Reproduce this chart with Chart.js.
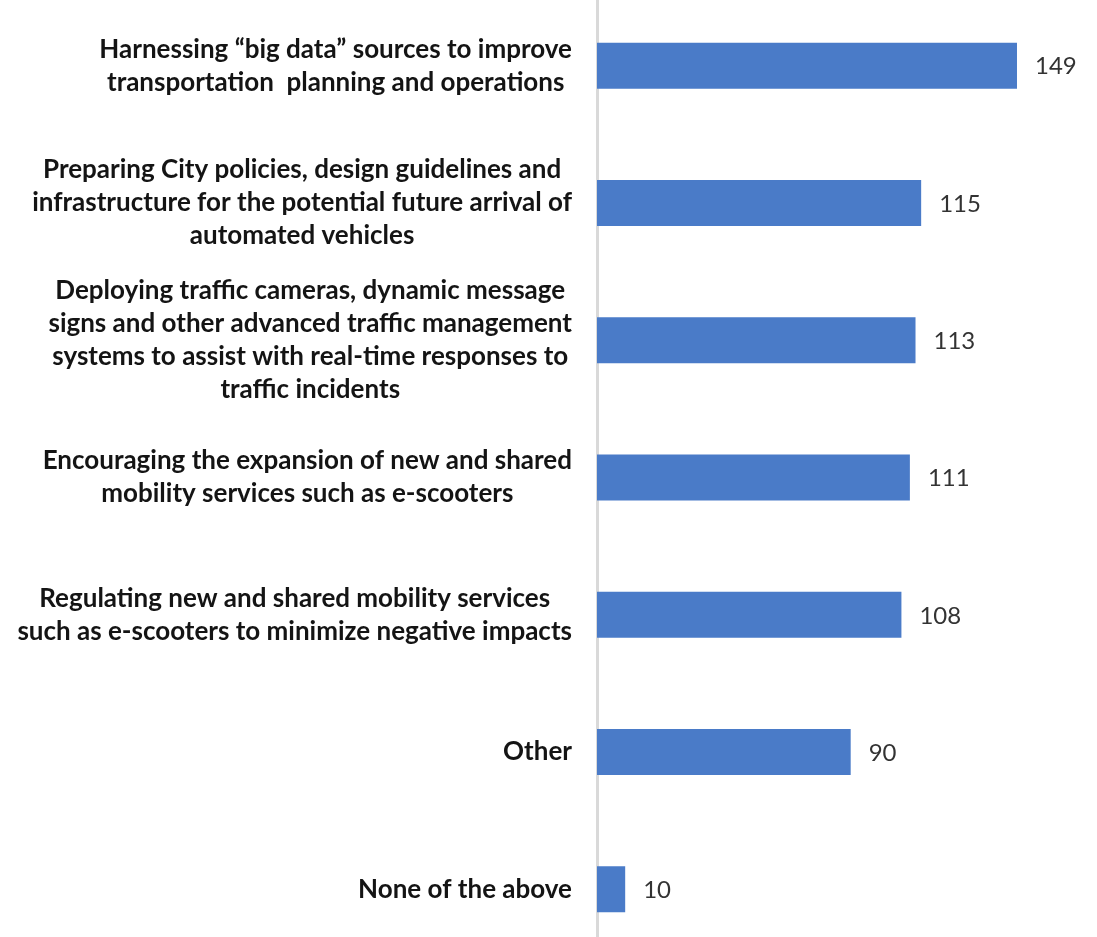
<!DOCTYPE html>
<html>
<head>
<meta charset="utf-8">
<script src="https://cdn.jsdelivr.net/npm/chart.js@4"></script>
<style>
  html, body { margin: 0; padding: 0; background: #fff; overflow: hidden; }
  #wrap { position: absolute; left: 0; top: -3px; width: 1097px; height: 961px; }
</style>
</head>
<body>
<div id="wrap"><canvas id="myChart" width="1097" height="961"></canvas></div>
<script>
const categories = [
  ["Harnessing \u201cbig data\u201d sources to improve", "transportation  planning and operations"],
  ["Preparing City policies, design guidelines and", "infrastructure for the potential future arrival of", "automated vehicles"],
  ["Deploying traffic cameras, dynamic message", "signs and other advanced traffic management", "systems to assist with real-time responses to", "traffic incidents"],
  ["Encouraging the expansion of new and shared", "mobility services such as e-scooters"],
  ["Regulating new and shared mobility services", "such as e-scooters to minimize negative impacts"],
  ["Other"],
  ["None of the above"],
];
const responses = [149, 115, 113, 111, 108, 90, 10];

const FONT = "Lato, 'Open Sans', sans-serif";

// category labels: each block right-aligned next to the axis, lines centred inside it
const labelPlugin = {
  id: "blockLabels",
  afterDraw(chart) {
    const ctx = chart.ctx;
    const y = chart.scales.y;
    const right = 572;
    const lineH = 33;
    ctx.save();
    ctx.font = "bold 26px " + FONT;
    ctx.fillStyle = "#141414";
    ctx.textAlign = "center";
    ctx.textBaseline = "middle";
    categories.forEach((lines, i) => {
      const widest = Math.max(...lines.map((l) => ctx.measureText(l).width));
      const cx = right - widest / 2;
      const cy = y.getPixelForValue(i);
      const top = cy - ((lines.length - 1) * lineH) / 2;
      lines.forEach((l, j) => ctx.fillText(l, cx, top + j * lineH));
    });
    ctx.restore();
  },
};

// value labels after each bar
const valuePlugin = {
  id: "barValues",
  afterDatasetsDraw(chart) {
    const ctx = chart.ctx;
    const meta = chart.getDatasetMeta(0);
    ctx.save();
    ctx.font = "24px " + FONT;
    ctx.fillStyle = "#333333";
    ctx.textAlign = "left";
    ctx.textBaseline = "middle";
    meta.data.forEach((bar, i) => {
      ctx.fillText(String(responses[i]), bar.x + 18, bar.y + 1);
    });
    ctx.restore();
  },
};

const ctx = document.getElementById("myChart");

new Chart(ctx, {
  type: "bar",
  data: {
    labels: categories,
    datasets: [
      {
        data: responses,
        backgroundColor: "#4a7bc8",
        borderWidth: 0,
        barPercentage: 0.335,
        categoryPercentage: 1,
      },
    ],
  },
  options: {
    indexAxis: "y",
    responsive: false,
    animation: false,
    layout: { padding: { left: 0, right: 49, top: 0, bottom: 0 } },
    plugins: {
      legend: { display: false },
      tooltip: { enabled: false },
    },
    scales: {
      x: {
        display: false,
        min: 0,
        max: 160,
      },
      y: {
        grid: { display: false, drawTicks: false },
        border: { display: true, color: "#d9d9d9", width: 3 },
        ticks: { display: false },
        afterFit(scale) {
          scale.width = 597;
        },
      },
    },
  },
  plugins: [labelPlugin, valuePlugin],
});
</script>
</body>
</html>
